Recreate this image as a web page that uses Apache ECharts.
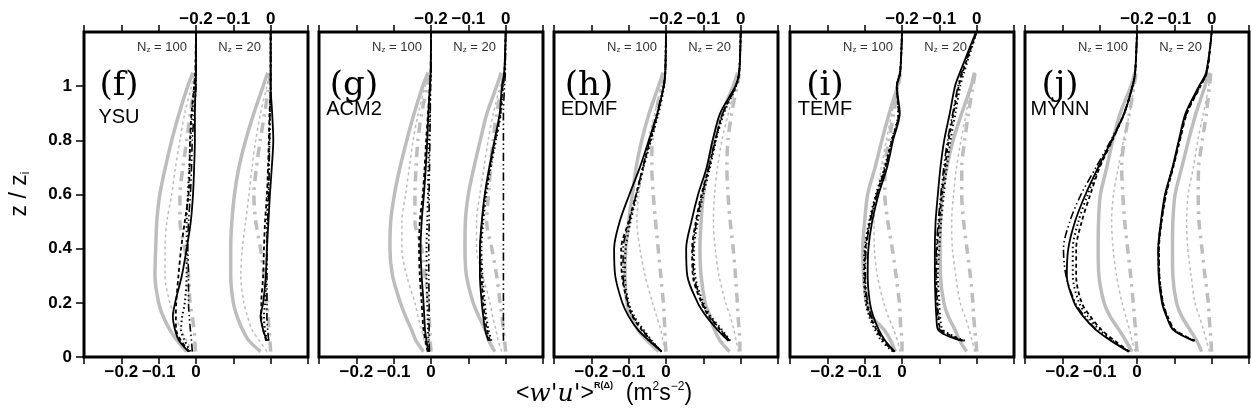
<!DOCTYPE html>
<html>
<head>
<meta charset="utf-8">
<script src="https://cdn.jsdelivr.net/npm/echarts@6/dist/echarts.min.js"></script>
<style>
html, body { margin: 0; padding: 0; background: #fff; }
#chart { width: 1252px; height: 419px; }
</style>
</head>
<body>
<div id="chart"></div>
<script>
// heights z/zi shared by every profile
const zLevels = [0.02, 0.06, 0.1, 0.15, 0.2, 0.3, 0.4, 0.5, 0.6, 0.7, 0.8, 0.9, 1.0, 1.05, 1.2];
const zTicks = [0, 0.2, 0.4, 0.6, 0.8, 1];

const schemes = ['YSU', 'ACM2', 'EDMF', 'TEMF', 'MYNN'];
const panelTags = ['(f)', '(g)', '(h)', '(i)', '(j)'];
const tickVals = [-0.2, -0.1, 0];
const tickText = ['\u22120.2', '\u22120.1', '0'];
const nz20Offset = 0.2;   // the Nz=20 profiles sit 0.2 to the right

// each block: gray solid, gray dashed, gray dash-dot, black solid, black dashed, black dotted, black dash-dot-dot
const ysu100 = [
  [-0.025, -0.05, -0.07, -0.088, -0.10, -0.11, -0.108, -0.105, -0.097, -0.082, -0.065, -0.045, -0.022, -0.008, null],
  [-0.008, -0.025, -0.04, -0.055, -0.07, -0.083, -0.083, -0.078, -0.065, -0.055, -0.043, -0.03, -0.012, -0.004, null],
  [-0.002, -0.003, -0.005, -0.01, -0.016, -0.02, -0.03, -0.043, -0.043, -0.035, -0.025, -0.015, -0.005, -0.001, null],
  [-0.02, -0.045, -0.056, -0.062, -0.056, -0.038, -0.025, -0.014, -0.008, -0.005, -0.003, -0.003, -0.001, 0, 0],
  [-0.018, -0.04, -0.053, -0.054, -0.053, -0.047, -0.04, -0.03, -0.02, -0.017, -0.016, -0.012, -0.005, -0.002, 0],
  [-0.015, -0.03, -0.04, -0.037, -0.03, -0.025, -0.025, -0.025, -0.022, -0.018, -0.015, -0.01, -0.004, -0.001, 0],
  [-0.01, -0.012, -0.015, -0.018, -0.02, -0.02, -0.022, -0.02, -0.015, -0.012, -0.01, -0.005, 0, 0, 0]
];
const ysu20 = [
  [-0.027, -0.058, -0.075, -0.09, -0.1, -0.107, -0.107, -0.104, -0.097, -0.085, -0.067, -0.045, -0.02, -0.008, null],
  [-0.01, -0.03, -0.05, -0.062, -0.072, -0.08, -0.076, -0.067, -0.058, -0.05, -0.04, -0.027, -0.01, -0.003, null],
  [0, -0.002, -0.004, -0.007, -0.01, -0.018, -0.027, -0.04, -0.045, -0.038, -0.028, -0.016, -0.005, -0.001, null],
  [null, -0.01, -0.02, -0.027, -0.02, -0.013, -0.01, -0.006, -0.002, 0.003, 0.007, 0.004, 0, 0, 0],
  [null, -0.012, -0.02, -0.025, -0.025, -0.02, -0.018, -0.015, -0.01, -0.007, -0.005, -0.003, 0, 0, 0],
  [null, -0.008, -0.015, -0.018, -0.015, -0.012, -0.01, -0.01, -0.007, -0.005, -0.003, -0.002, 0, 0, 0],
  [null, -0.005, -0.008, -0.01, -0.01, -0.01, -0.01, -0.008, -0.005, -0.004, -0.003, -0.002, 0, 0, 0]
];
const acm100 = [
  [-0.02, -0.04, -0.052, -0.068, -0.082, -0.103, -0.11, -0.108, -0.098, -0.083, -0.065, -0.045, -0.022, -0.008, null],
  [-0.008, -0.018, -0.025, -0.035, -0.043, -0.065, -0.078, -0.078, -0.068, -0.058, -0.048, -0.034, -0.016, -0.006, null],
  [0, -0.002, -0.003, -0.005, -0.007, -0.016, -0.025, -0.043, -0.043, -0.04, -0.035, -0.025, -0.01, -0.003, null],
  [-0.007, -0.012, -0.016, -0.018, -0.02, -0.025, -0.028, -0.025, -0.019, -0.014, -0.01, -0.007, -0.003, -0.001, 0],
  [-0.009, -0.015, -0.02, -0.023, -0.025, -0.03, -0.032, -0.03, -0.022, -0.017, -0.013, -0.008, -0.003, -0.001, 0],
  [-0.005, -0.007, -0.008, -0.009, -0.01, -0.012, -0.012, -0.01, -0.008, -0.007, -0.005, -0.003, -0.002, 0, 0],
  [-0.004, -0.005, -0.005, -0.005, -0.005, -0.006, -0.006, -0.005, -0.005, -0.004, -0.003, -0.002, -0.001, 0, 0]
];
const acm20 = [
  [-0.029, -0.045, -0.055, -0.072, -0.087, -0.105, -0.109, -0.108, -0.1, -0.085, -0.068, -0.05, -0.024, -0.012, null],
  [-0.01, -0.02, -0.026, -0.035, -0.042, -0.061, -0.078, -0.078, -0.069, -0.058, -0.047, -0.033, -0.015, -0.006, null],
  [0, -0.003, -0.006, -0.01, -0.015, -0.024, -0.037, -0.051, -0.046, -0.04, -0.034, -0.024, -0.01, -0.003, null],
  [null, -0.046, -0.055, -0.06, -0.064, -0.069, -0.069, -0.064, -0.056, -0.044, -0.03, -0.016, -0.01, -0.004, 0],
  [null, -0.042, -0.05, -0.056, -0.06, -0.065, -0.068, -0.063, -0.055, -0.042, -0.028, -0.014, -0.008, -0.003, 0],
  [null, -0.038, -0.046, -0.052, -0.056, -0.062, -0.065, -0.06, -0.052, -0.04, -0.026, -0.013, -0.007, -0.003, 0],
  [null, -0.006, -0.006, -0.006, -0.006, -0.006, -0.006, -0.006, -0.006, -0.006, -0.006, -0.006, -0.003, -0.001, 0]
];
const edmf100 = [
  [-0.02, -0.05, -0.075, -0.095, -0.105, -0.11, -0.108, -0.1, -0.09, -0.08, -0.065, -0.045, -0.02, -0.008, null],
  [-0.003, -0.008, -0.014, -0.025, -0.036, -0.056, -0.07, -0.078, -0.073, -0.06, -0.047, -0.03, -0.012, -0.004, null],
  [0, -0.002, -0.003, -0.005, -0.007, -0.014, -0.021, -0.028, -0.034, -0.038, -0.037, -0.027, -0.012, -0.004, null],
  [-0.012, -0.045, -0.075, -0.1, -0.117, -0.136, -0.139, -0.124, -0.098, -0.07, -0.046, -0.023, -0.006, -0.002, 0],
  [-0.012, -0.04, -0.065, -0.09, -0.103, -0.118, -0.12, -0.1, -0.08, -0.062, -0.042, -0.022, -0.006, -0.002, 0],
  [-0.012, -0.038, -0.06, -0.085, -0.1, -0.11, -0.108, -0.095, -0.078, -0.06, -0.04, -0.02, -0.005, -0.002, 0],
  [-0.012, -0.04, -0.063, -0.088, -0.102, -0.115, -0.115, -0.098, -0.08, -0.062, -0.044, -0.024, -0.007, -0.002, 0]
];
const edmf20 = [
  [-0.03, -0.055, -0.07, -0.082, -0.095, -0.106, -0.109, -0.106, -0.1, -0.088, -0.073, -0.05, -0.02, -0.008, null],
  [-0.006, -0.012, -0.018, -0.028, -0.04, -0.058, -0.068, -0.073, -0.07, -0.062, -0.05, -0.033, -0.014, -0.005, null],
  [-0.002, -0.002, -0.004, -0.007, -0.009, -0.014, -0.02, -0.028, -0.034, -0.037, -0.034, -0.024, -0.01, -0.003, null],
  [null, -0.033, -0.062, -0.092, -0.115, -0.143, -0.146, -0.132, -0.114, -0.091, -0.075, -0.055, -0.014, -0.004, 0],
  [null, -0.03, -0.055, -0.085, -0.105, -0.128, -0.13, -0.12, -0.105, -0.085, -0.068, -0.048, -0.013, -0.004, 0],
  [null, -0.028, -0.05, -0.08, -0.1, -0.122, -0.125, -0.115, -0.1, -0.082, -0.066, -0.045, -0.012, -0.004, 0],
  [null, -0.03, -0.053, -0.083, -0.103, -0.125, -0.128, -0.118, -0.103, -0.085, -0.068, -0.048, -0.013, -0.004, 0]
];
const temf100 = [
  [-0.018, -0.03, -0.048, -0.081, -0.095, -0.103, -0.105, -0.1, -0.092, -0.072, -0.054, -0.034, -0.012, -0.005, null],
  [-0.005, -0.012, -0.022, -0.037, -0.049, -0.066, -0.074, -0.075, -0.066, -0.055, -0.042, -0.027, -0.013, -0.005, null],
  [0, 0, -0.003, -0.005, -0.007, -0.016, -0.026, -0.038, -0.046, -0.046, -0.035, -0.022, -0.01, -0.004, null],
  [-0.019, -0.045, -0.062, -0.077, -0.086, -0.092, -0.09, -0.08, -0.063, -0.04, -0.024, -0.006, -0.014, -0.005, 0],
  [-0.022, -0.05, -0.068, -0.085, -0.094, -0.1, -0.098, -0.086, -0.068, -0.045, -0.027, -0.009, -0.014, -0.005, 0],
  [-0.025, -0.055, -0.072, -0.088, -0.097, -0.102, -0.1, -0.088, -0.07, -0.047, -0.028, -0.01, -0.013, -0.005, 0],
  [-0.02, -0.048, -0.066, -0.082, -0.092, -0.098, -0.096, -0.085, -0.067, -0.044, -0.026, -0.008, -0.014, -0.005, 0]
];
const temf20 = [
  [-0.027, -0.045, -0.058, -0.076, -0.088, -0.097, -0.098, -0.097, -0.093, -0.08, -0.063, -0.04, -0.015, -0.006, null],
  [-0.005, -0.012, -0.02, -0.031, -0.044, -0.056, -0.065, -0.067, -0.062, -0.054, -0.042, -0.028, -0.016, -0.006, null],
  [0, -0.002, -0.005, -0.008, -0.01, -0.017, -0.026, -0.035, -0.04, -0.04, -0.032, -0.022, -0.01, -0.004, null],
  [null, -0.04, -0.103, -0.108, -0.11, -0.112, -0.112, -0.11, -0.104, -0.097, -0.087, -0.072, -0.058, -0.045, -0.002],
  [null, -0.035, -0.095, -0.102, -0.105, -0.108, -0.106, -0.1, -0.093, -0.085, -0.075, -0.062, -0.048, -0.038, 0],
  [null, -0.032, -0.09, -0.098, -0.1, -0.104, -0.1, -0.095, -0.088, -0.08, -0.07, -0.057, -0.044, -0.034, 0],
  [null, -0.037, -0.098, -0.104, -0.107, -0.109, -0.108, -0.103, -0.096, -0.088, -0.078, -0.064, -0.05, -0.04, 0]
];
const mynn100 = [
  [-0.014, -0.03, -0.048, -0.072, -0.088, -0.102, -0.104, -0.103, -0.098, -0.081, -0.065, -0.045, -0.016, -0.006, null],
  [-0.005, -0.013, -0.02, -0.03, -0.04, -0.055, -0.064, -0.068, -0.063, -0.05, -0.036, -0.02, -0.008, -0.003, null],
  [0, -0.002, -0.004, -0.007, -0.01, -0.017, -0.025, -0.033, -0.038, -0.041, -0.034, -0.02, -0.008, -0.002, null],
  [-0.023, -0.07, -0.11, -0.144, -0.168, -0.188, -0.184, -0.166, -0.138, -0.104, -0.068, -0.034, -0.012, -0.005, 0],
  [-0.02, -0.06, -0.095, -0.125, -0.148, -0.163, -0.163, -0.148, -0.125, -0.1, -0.066, -0.034, -0.012, -0.005, 0],
  [-0.022, -0.065, -0.1, -0.132, -0.155, -0.172, -0.172, -0.157, -0.132, -0.102, -0.067, -0.034, -0.012, -0.005, 0],
  [-0.022, -0.068, -0.108, -0.14, -0.165, -0.19, -0.197, -0.18, -0.15, -0.11, -0.07, -0.035, -0.012, -0.005, 0]
];
const mynn20 = [
  [-0.027, -0.04, -0.058, -0.08, -0.094, -0.104, -0.105, -0.104, -0.098, -0.08, -0.062, -0.042, -0.018, -0.008, null],
  [-0.006, -0.014, -0.022, -0.033, -0.045, -0.055, -0.064, -0.067, -0.063, -0.049, -0.037, -0.022, -0.008, -0.003, null],
  [0, -0.002, -0.004, -0.007, -0.009, -0.018, -0.026, -0.034, -0.036, -0.035, -0.025, -0.014, -0.006, -0.002, null],
  [null, -0.049, -0.103, -0.121, -0.133, -0.142, -0.143, -0.136, -0.125, -0.105, -0.088, -0.07, -0.034, -0.015, 0],
  [null, -0.045, -0.098, -0.118, -0.13, -0.14, -0.141, -0.134, -0.122, -0.103, -0.085, -0.066, -0.03, -0.013, 0],
  [null, -0.046, -0.1, -0.119, -0.131, -0.14, -0.142, -0.135, -0.123, -0.104, -0.087, -0.068, -0.032, -0.014, 0],
  [null, -0.048, -0.102, -0.12, -0.132, -0.141, -0.143, -0.135, -0.124, -0.104, -0.086, -0.067, -0.031, -0.013, 0]
];

const profiles100 = [ysu100, acm100, edmf100, temf100, mynn100];
const profiles20 = [ysu20, acm20, edmf20, temf20, mynn20];

const lineStyles = [
  { color: '#bdbdbd', width: 3.5, type: 'solid' },
  { color: '#bdbdbd', width: 1.5, type: [3, 3] },
  { color: '#bdbdbd', width: 3.5, type: [10, 6, 2.5, 6] },
  { color: '#000', width: 1.8, type: 'solid' },
  { color: '#000', width: 1.8, type: [4, 3] },
  { color: '#000', width: 2, type: [1.5, 3] },
  { color: '#000', width: 1.6, type: [8, 3, 1.5, 3, 1.5, 3] }
];

const panelLeft = [84, 319, 554, 790, 1025];
const panelW = 224, panelTop = 32, panelH = 325;

const chart = echarts.init(document.getElementById('chart'));

const pickLabel = (v, shift) => {
  const i = tickVals.findIndex(t => Math.abs(t + shift - v) < 1e-6);
  return i < 0 ? '' : tickText[i];
};

const grids = [], xAxes = [], yAxes = [], series = [], graphics = [];

panelLeft.forEach((L, p) => {
  grids.push({ left: L, top: panelTop, width: panelW, height: panelH, show: true,
    borderColor: '#000', borderWidth: 3, backgroundColor: 'transparent' });

  const xBase = {
    gridIndex: p, type: 'value', min: -0.3, max: 0.3, interval: 0.1,
    axisLine: { show: false, onZero: false },
    axisTick: { show: true, length: 7, lineStyle: { color: '#000', width: 1.5 } },
    splitLine: { show: false }
  };
  xAxes.push(Object.assign({}, xBase, {
    position: 'bottom',
    axisLabel: { margin: 7, color: '#000', fontSize: 17, fontWeight: 'bold', fontFamily: 'Liberation Sans',
      formatter: v => pickLabel(v, 0) }
  }));
  xAxes.push(Object.assign({}, xBase, {
    position: 'top',
    axisLabel: { margin: 4, color: '#000', fontSize: 17, fontWeight: 'bold', fontFamily: 'Liberation Sans',
      formatter: v => pickLabel(v, nz20Offset) }
  }));

  yAxes.push({
    gridIndex: p, type: 'value', min: 0, max: 1.2, interval: 0.2, position: 'left',
    axisLine: { show: false, onZero: false },
    axisTick: { show: p === 0, length: 8, customValues: zTicks, lineStyle: { color: '#000', width: 1.5 } },
    axisLabel: { show: p === 0, margin: 12, color: '#000', fontSize: 17, fontWeight: 'bold', fontFamily: 'Liberation Sans',
      customValues: zTicks, formatter: v => String(Math.round(v * 10) / 10) },
    splitLine: { show: false }
  });

  [[profiles100[p], 0], [profiles20[p], nz20Offset]].forEach(([block, off]) => {
    block.forEach((vals, s) => {
      const pts = [];
      vals.forEach((v, k) => { if (v !== null) pts.push([v + off, zLevels[k]]); });
      series.push({
        type: 'line', xAxisIndex: p * 2, yAxisIndex: p, data: pts,
        showSymbol: false, smooth: 0.3, silent: true, z: s < 3 ? 2 : 3,
        lineStyle: lineStyles[s]
      });
    });
  });

  graphics.push({ type: 'text', x: L + 35, y: 86, style: {
    text: panelTags[p], textAlign: 'center', textVerticalAlign: 'middle', fill: '#000',
    font: '34px "DejaVu Serif"' } });
  graphics.push({ type: 'text', x: L + 35, y: p === 0 ? 117 : 109, style: {
    text: schemes[p], textAlign: 'center', textVerticalAlign: 'middle', fill: '#000',
    font: '20px "Liberation Sans"' } });
  graphics.push({ type: 'text', x: L + 103, y: 47, style: {
    text: '{n|N}{s|z}{n| = 100}', textAlign: 'right', textVerticalAlign: 'middle',
    rich: { n: { fontSize: 13, fill: '#333', fontFamily: 'Liberation Sans' },
            s: { fontSize: 8, fill: '#333', fontFamily: 'Liberation Sans', verticalAlign: 'bottom' } } } });
  graphics.push({ type: 'text', x: L + 177, y: 47, style: {
    text: '{n|N}{s|z}{n| = 20}', textAlign: 'right', textVerticalAlign: 'middle',
    rich: { n: { fontSize: 13, fill: '#333', fontFamily: 'Liberation Sans' },
            s: { fontSize: 8, fill: '#333', fontFamily: 'Liberation Sans', verticalAlign: 'bottom' } } } });
});

// y axis title
graphics.push({ type: 'text', x: 20, y: 194, rotation: Math.PI / 2, style: {
  text: '{a|z / z}{s|i}', textAlign: 'center', textVerticalAlign: 'middle',
  rich: { a: { fontSize: 23, fill: '#000', fontFamily: 'Liberation Sans' },
          s: { fontSize: 12, fill: '#000', fontFamily: 'Liberation Sans', verticalAlign: 'bottom' } } } });

// x axis title
graphics.push({ type: 'text', x: 604, y: 394, style: {
  text: '{a|<}{w|w\'u\'}{a|>}{p|R(\u0394)}{a|  (m}{q|2}{a|s}{q|\u22122}{a|)}',
  textAlign: 'center', textVerticalAlign: 'middle',
  rich: {
    a: { fontSize: 23, fill: '#000', fontFamily: 'Liberation Sans', lineHeight: 26 },
    w: { fontSize: 25, fill: '#000', fontFamily: 'DejaVu Serif', fontStyle: 'italic', lineHeight: 26 },
    p: { fontSize: 9, fill: '#000', fontFamily: 'Liberation Sans', fontWeight: 'bold', verticalAlign: 'top', lineHeight: 26 },
    q: { fontSize: 12, fill: '#000', fontFamily: 'Liberation Sans', verticalAlign: 'top', lineHeight: 26 }
  } } });

chart.setOption({
  animation: false,
  backgroundColor: '#fff',
  grid: grids,
  xAxis: xAxes,
  yAxis: yAxes,
  series: series,
  graphic: graphics
});
</script>
</body>
</html>
